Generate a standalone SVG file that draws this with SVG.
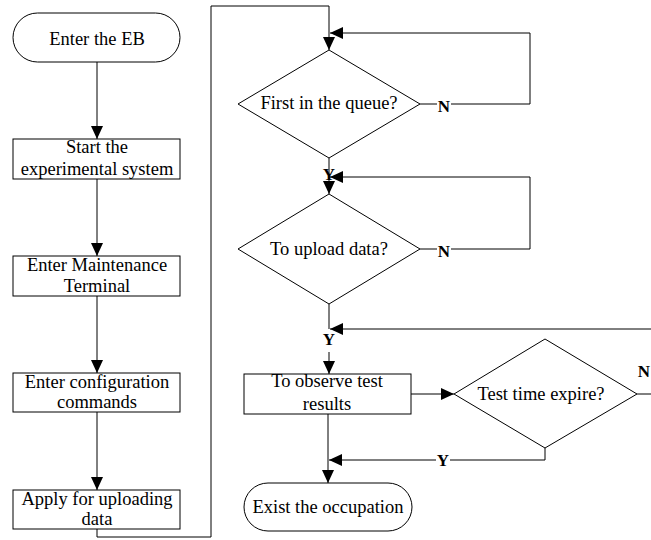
<svg xmlns="http://www.w3.org/2000/svg" width="651" height="540" viewBox="0 0 651 540">
<style>
.s{fill:#fff;stroke:#000;stroke-width:1}
.c{fill:none;stroke:#000;stroke-width:1}
text{font-family:'Liberation Serif','DejaVu Serif',serif;fill:#000;text-anchor:middle}
.t{font-size:18.5px}
.b{font-size:17px;font-weight:bold}
</style>
<defs>
<marker id="ah" markerUnits="userSpaceOnUse" markerWidth="13" markerHeight="12" refX="13" refY="6" orient="auto" viewBox="0 0 13 12">
<path d="M0,0 L13,6 L0,12 z" fill="#000"/>
</marker>
</defs>
<rect width="651" height="540" fill="#fff"/>
<g id="connectors">
<line class="c" x1="97" y1="62" x2="97" y2="139" marker-end="url(#ah)"/>
<line class="c" x1="97" y1="179" x2="97" y2="256" marker-end="url(#ah)"/>
<line class="c" x1="97" y1="296" x2="97" y2="373" marker-end="url(#ah)"/>
<line class="c" x1="97" y1="412" x2="97" y2="490" marker-end="url(#ah)"/>
<polyline class="c" points="97,529 97,537 211,537 211,6 329,6 329,50" marker-end="url(#ah)"/>
<line class="c" x1="420" y1="104" x2="437" y2="104"/>
<polyline class="c" points="451,104 530,104 530,33 330,33" marker-end="url(#ah)"/>
<line class="c" x1="329" y1="158" x2="329" y2="194" marker-end="url(#ah)"/>
<line class="c" x1="420" y1="249" x2="437" y2="249"/>
<polyline class="c" points="451,249 530,249 530,177 330,177" marker-end="url(#ah)"/>
<line class="c" x1="329" y1="304" x2="329" y2="329"/>
<line class="c" x1="651" y1="329" x2="330" y2="329" marker-end="url(#ah)"/>
<line class="c" x1="329" y1="352" x2="329" y2="374" marker-end="url(#ah)"/>
<line class="c" x1="411" y1="394" x2="454" y2="394" marker-end="url(#ah)"/>
<line class="c" x1="637" y1="394" x2="651" y2="394"/>
<polyline class="c" points="545,448 545,460 450,460"/>
<line class="c" x1="436" y1="460" x2="329" y2="460" marker-end="url(#ah)"/>
<line class="c" x1="328" y1="414" x2="328" y2="483" marker-end="url(#ah)"/>
<text class="b" x="444" y="112">N</text>
<text class="b" x="444" y="257">N</text>
<text class="b" x="329" y="180">Y</text>
<text class="b" x="329" y="345">Y</text>
<text class="b" x="443" y="466">Y</text>
<text class="b" x="644" y="377">N</text>
</g>
<g id="start">
<rect class="s" x="13" y="13" width="167" height="49" rx="24.5"/>
<text class="t" x="97" y="45">Enter the EB</text>
</g>
<g id="box1">
<rect class="s" x="13" y="139" width="167" height="40"/>
<text class="t" x="97" y="153">Start the</text>
<text class="t" x="97" y="175">experimental system</text>
</g>
<g id="box2">
<rect class="s" x="13" y="256" width="167" height="40"/>
<text class="t" x="97" y="271">Enter Maintenance</text>
<text class="t" x="97" y="292">Terminal</text>
</g>
<g id="box3">
<rect class="s" x="13" y="373" width="167" height="39"/>
<text class="t" x="97" y="388">Enter configuration</text>
<text class="t" x="97" y="408">commands</text>
</g>
<g id="box4">
<rect class="s" x="13" y="490" width="167" height="39"/>
<text class="t" x="97" y="505">Apply for uploading</text>
<text class="t" x="97" y="525">data</text>
</g>
<g id="diamond1">
<polygon class="s" points="329,50 420,104 329,158 238,104"/>
<text class="t" x="329" y="109">First in the queue?</text>
</g>
<g id="diamond2">
<polygon class="s" points="329,194 420,249 329,304 238,249"/>
<text class="t" x="329" y="255">To upload data?</text>
</g>
<g id="box5">
<rect class="s" x="244" y="374" width="167" height="40"/>
<text class="t" x="327" y="387">To observe test</text>
<text class="t" x="327" y="410">results</text>
</g>
<g id="diamond3">
<polygon class="s" points="545,339 637,394 545,448 454,394"/>
<text class="t" x="541" y="400">Test time expire?</text>
</g>
<g id="end">
<rect class="s" x="244" y="483" width="168" height="48" rx="24"/>
<text class="t" x="328" y="513">Exist the occupation</text>
</g>
</svg>
